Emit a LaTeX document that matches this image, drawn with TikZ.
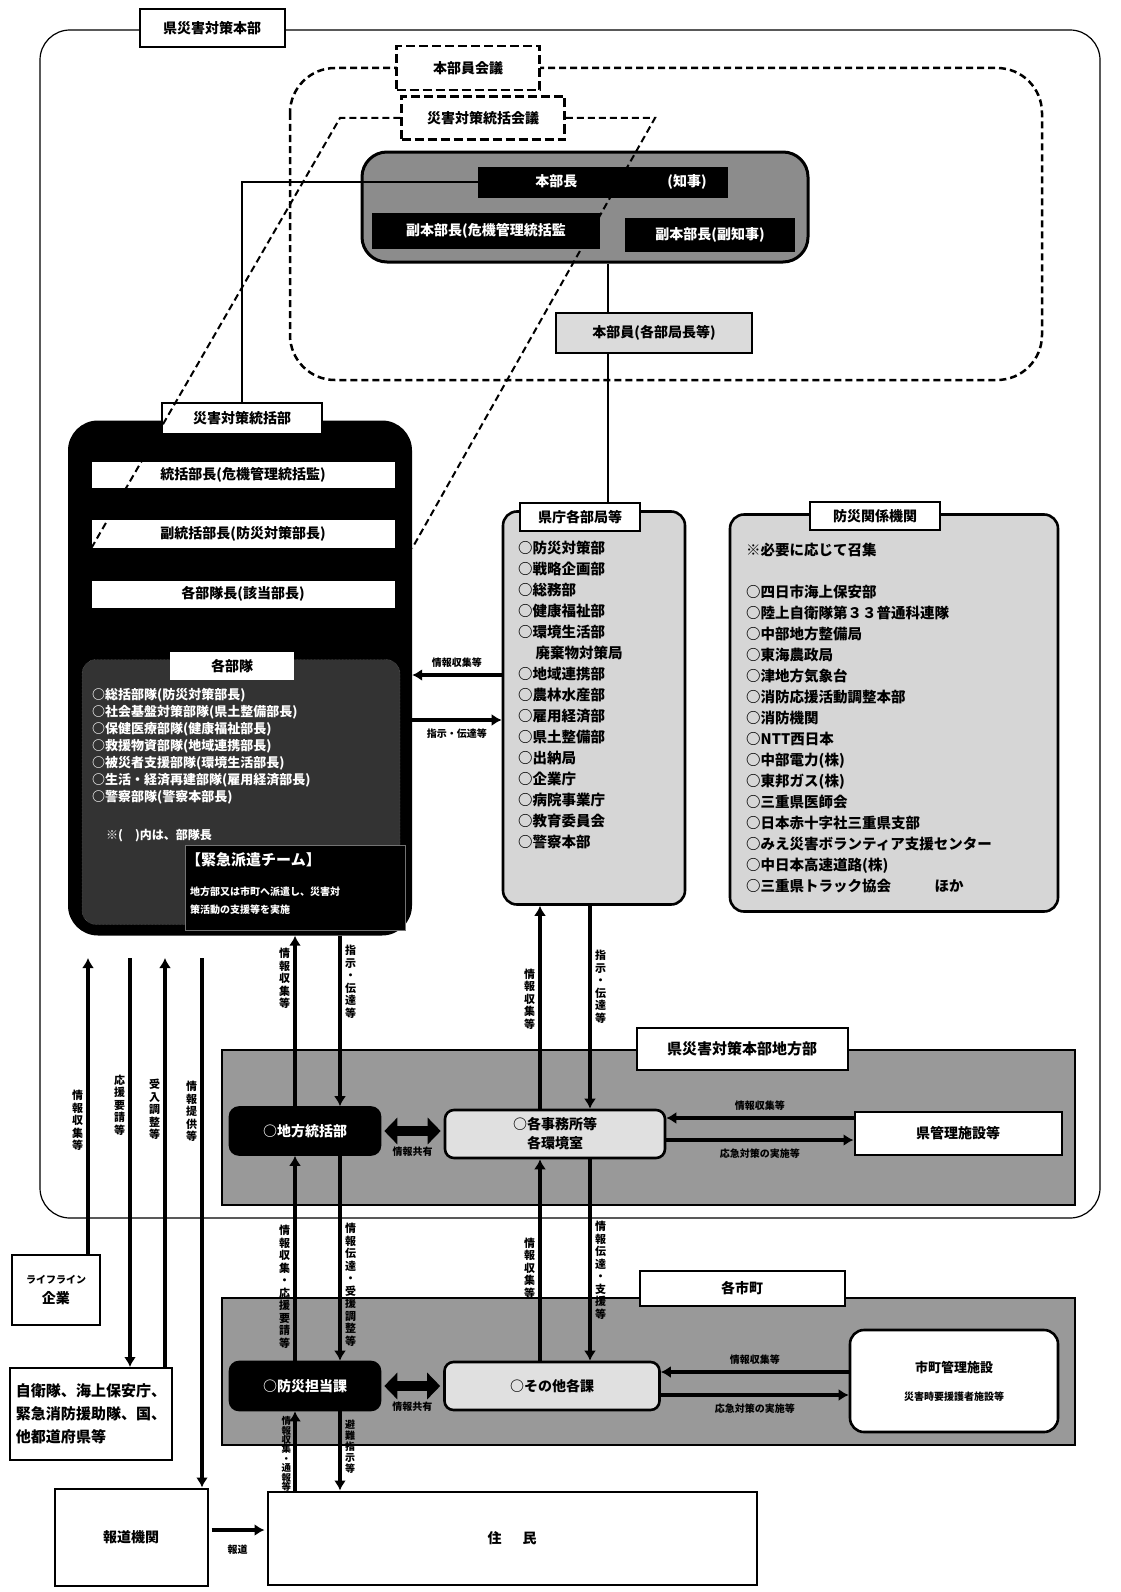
\documentclass[tikz,border=0pt]{standalone}
\usepackage{fontspec}
\setmainfont{Noto Sans CJK JP}
\usepackage{tikz}
\usetikzlibrary{arrows,arrows.meta,positioning}

\newcommand{\fsz}[2]{\fontsize{#1}{#2}\selectfont}

\tikzset{
  tbox/.style={draw, line width=2pt, fill=white, inner sep=0pt, font=\bfseries\fsz{14}{16}},
  dbox/.style={draw, line width=2.5pt, dash pattern=on 9pt off 4pt, fill=white, inner sep=0pt, font=\bfseries\fsz{14}{16}},
  bbar/.style={fill=black, text=white, inner sep=0pt, font=\bfseries\fsz{14}{16}},
  wbar/.style={fill=white, inner sep=0pt, font=\bfseries\fsz{14}{16}},
  zone/.style={draw, line width=1.6pt, fill=black!40, inner sep=0pt},
  rbox/.style={draw, line width=2.6pt, rounded corners=9pt, inner sep=0pt, font=\bfseries\fsz{14}{16}},
  itemlist/.style={align=left, anchor=north west, inner sep=0pt, font=\bfseries\fsz{14.5}{21}},
  hair/.style={line width=1.2pt},
  dline/.style={line width=2pt, dash pattern=on 7pt off 4pt},
  fat/.style={line width=4pt, ->, >={Latex[length=10pt,width=12pt]}},
  dbl/.style={line width=10pt, <->, >={Triangle[length=13pt,width=26pt]}, shorten >=3pt, shorten <=3pt},
  tate/.style={align=center, inner sep=3pt, font=\bfseries\fsz{11}{12.5}},
  lab/.style={inner sep=1pt, font=\bfseries\fsz{10}{12}},
}

\begin{document}
\begin{tikzpicture}[x=1pt, y=-1pt]
\useasboundingbox (0,0) rectangle (1120,1592);

% columns of the long arrows
\coordinate (spine) at (608,0);
\coordinate (cA) at (295,0);
\coordinate (cB) at (340,0);
\coordinate (cC) at (540,0);
\coordinate (cD) at (590,0);
\coordinate (cE) at (88,0);
\coordinate (cF) at (130,0);
\coordinate (cG) at (165,0);
\coordinate (cH) at (202,0);
\coordinate (lo) at (0,958);
\coordinate (tieL) at (340,118);
\coordinate (tieR) at (655,118);

% headquarters frame
\draw[hair, rounded corners=30pt] (40,30) rectangle (1100,1218);
\node[tbox, minimum width=145pt, minimum height=38pt] (hq) at (212,28) {県災害対策本部};

% meetings
\draw[dline, line width=2.5pt, rounded corners=45pt] (290,68) rectangle (1042,380);
\node[dbox, minimum width=143pt, minimum height=44pt] (kaigi) at (468,68) {本部員会議};
\node[dbox, minimum width=163pt, minimum height=43pt] (tkaigi) at (483,118) {災害対策統括会議};

\node[rbox, line width=3pt, rounded corners=25pt, fill=black!45, minimum width=446pt, minimum height=110pt] (honbu) at (585,207) {};
\node[bbar, minimum width=250pt, minimum height=31pt] (chief) at (603,182) {\hspace*{36pt}本部長\hspace{90pt}(知事)};
\node[bbar, minimum width=228pt, minimum height=36pt] (vice1) at (486,231) {副本部長(危機管理統括監};
\node[bbar, minimum width=170pt, minimum height=34pt] (vice2) at (710,235) {副本部長(副知事)};
\node[rbox, rounded corners=0pt, fill=black!14, minimum width=196pt, minimum height=40pt] (member) at (654,333) {本部員(各部局長等)};

% coordination division
\node[fill=black, rounded corners=30pt, minimum width=344pt, minimum height=515pt, inner sep=0pt] (tk) at (240,678) {};
\node[tbox, minimum width=160pt, minimum height=31pt] (tkttl) at (242,418) {災害対策統括部};
\node[wbar, minimum width=303pt, minimum height=26pt] (boss) at (243,475) {統括部長(危機管理統括監)};
\node[wbar, minimum width=303pt, minimum height=28pt] (fuku) at (243,534) {副統括部長(防災対策部長)};
\node[wbar, minimum width=303pt, minimum height=27pt] (leaders) at (243,594) {各部隊長(該当部長)};
\node[draw=black!55, densely dotted, fill=black!80, rounded corners=14pt, minimum width=318pt, minimum height=265pt, inner sep=0pt] (units) at (241,792) {};
\node[wbar, minimum width=124pt, minimum height=28pt] (unitsttl) at (232,666) {各部隊};
\node[itemlist, text=white, font=\bfseries\fsz{13}{17}] (unitlist) at (92,688) {○総括部隊(防災対策部長)\\○社会基盤対策部隊(県土整備部長)\\○保健医療部隊(健康福祉部長)\\○救援物資部隊(地域連携部長)\\○被災者支援部隊(環境生活部長)\\○生活・経済再建部隊(雇用経済部長)\\○警察部隊(警察本部長)};
\node[anchor=west, text=white, inner sep=0pt, font=\bfseries\fsz{12}{14}] (note) at (106,836) {※(\hspace{1em})内は、部隊長};
\node[fill=black, draw=black!55, minimum width=220pt, minimum height=85pt, inner sep=0pt] (team) at (295,888) {};
\node[anchor=west, text=white, inner sep=0pt, font=\bfseries\fsz{15}{18}] (teamttl) at (186,860) {【緊急派遣チーム】};
\node[anchor=west, align=left, text=white, inner sep=0pt, font=\bfseries\fsz{10}{18}] (teamtxt) at (190,901) {地方部又は市町へ派遣し、災害対\\策活動の支援等を実施};

% prefectural departments
\node[rbox, rounded corners=14pt, fill=black!16, minimum width=182pt, minimum height=393pt] (kencho) at (594,708) {};
\node[tbox, minimum width=120pt, minimum height=28pt] (kcttl) at (580,517) {県庁各部局等};
\node[itemlist] (kclist) at (518,541) {○防災対策部\\○戦略企画部\\○総務部\\○健康福祉部\\○環境生活部\\\hspace*{1.2em}廃棄物対策局\\○地域連携部\\○農林水産部\\○雇用経済部\\○県土整備部\\○出納局\\○企業庁\\○病院事業庁\\○教育委員会\\○警察本部};

% related organisations
\node[rbox, rounded corners=14pt, fill=black!16, minimum width=328pt, minimum height=397pt] (kikan) at (894,713) {};
\node[tbox, minimum width=130pt, minimum height=28pt] (kkttl) at (875,516) {防災関係機関};
\node[itemlist] (kkhead) at (746,543) {※必要に応じて召集};
\node[itemlist] (kklist) at (746,585) {○四日市海上保安部\\○陸上自衛隊第３３普通科連隊\\○中部地方整備局\\○東海農政局\\○津地方気象台\\○消防応援活動調整本部\\○消防機関\\○NTT西日本\\○中部電力(株)\\○東邦ガス(株)\\○三重県医師会\\○日本赤十字社三重県支部\\○みえ災害ボランティア支援センター\\○中日本高速道路(株)\\○三重県トラック協会\hspace*{3em}ほか};

% regional division
\node[zone, minimum width=853pt, minimum height=155pt] (chihozone) at (648.5,1127.5) {};
\node[tbox, minimum width=211pt, minimum height=42pt, font=\bfseries\fsz{15}{16}] (chihottl) at (742,1049) {県災害対策本部地方部};
\node[rbox, fill=black, text=white, minimum width=150pt, minimum height=47pt] (chiho) at (305,1131) {○地方統括部};
\node[rbox, fill=black!12, minimum width=220pt, minimum height=48pt, align=center, font=\bfseries\fsz{14}{19}] (jimusho) at (555,1134) {○各事務所等\\各環境室};
\node[tbox, minimum width=207pt, minimum height=43pt] (kenkanri) at (958,1133) {県管理施設等};

% municipalities
\node[zone, minimum width=853pt, minimum height=147pt] (shichozone) at (648.5,1371.5) {};
\node[tbox, minimum width=205pt, minimum height=35pt] (shichottl) at (742,1288) {各市町};
\node[rbox, fill=black, text=white, minimum width=150pt, minimum height=48pt] (bosai) at (305,1386) {○防災担当課};
\node[rbox, fill=black!12, minimum width=215pt, minimum height=48pt] (sonota) at (552,1386) {○その他各課};
\node[rbox, rounded corners=14pt, fill=white, minimum width=208pt, minimum height=102pt, align=center, font=\bfseries\fsz{13}{28}] (shichokanri) at (954,1381) {市町管理施設\\{\fsz{10}{12}災害時要援護者施設等}};

% outside bodies
\node[tbox, minimum width=88pt, minimum height=70pt, align=center, font=\bfseries\fsz{14}{20}] (raifu) at (56,1290) {{\fsz{10}{20}ライフライン}\\企業};
\node[tbox, minimum width=162pt, minimum height=92pt, align=left, font=\bfseries\fsz{15}{23}] (jieitai) at (91,1414) {自衛隊、海上保安庁、\\緊急消防援助隊、国、\\他都道府県等};
\node[tbox, minimum width=153pt, minimum height=97pt] (houdou) at (131,1537) {報道機関};
\node[tbox, minimum width=489pt, minimum height=93pt] (jumin) at (512,1538) {住\hspace{1.5em}民};

% thin links
\draw[hair] (chief.west) -| (tkttl.north);
\draw[hair] (honbu.south -| spine) -- (member.north -| spine);
\draw[hair] (member.south -| spine) -- (kcttl.north -| spine);

% division <-> departments
\draw[fat] ([yshift=33pt]kencho.west) -- ([yshift=33pt]kencho.west -| tk.east) node[lab, midway, above=5pt] {情報収集等};
\draw[fat] ([yshift=-12pt]kencho.west -| tk.east) -- ([yshift=-12pt]kencho.west) node[lab, midway, below=6pt] {指示・伝達等};

% vertical flows
\draw[fat] (chiho.north -| cA) -- (tk.south -| cA) node[tate, left, pos=.75] {情\\報\\収\\集\\等};
\draw[fat] (tk.south -| cB) -- (chiho.north -| cB) node[tate, right, pos=.27] {指\\示\\・\\伝\\達\\等};
\draw[fat] (jimusho.north -| cC) -- (kencho.south -| cC) node[tate, left, pos=.54] {情\\報\\収\\集\\等};
\draw[fat] (kencho.south -| cD) -- (jimusho.north -| cD) node[tate, right, pos=.4] {指\\示\\・\\伝\\達\\等};
\draw[fat] (bosai.north -| cA) -- (chiho.south -| cA) node[tate, left, pos=.36] {情\\報\\収\\集\\・\\応\\援\\要\\請\\等};
\draw[fat] (chiho.south -| cB) -- (bosai.north -| cB) node[tate, right, pos=.63] {情\\報\\伝\\達\\・\\受\\援\\調\\整\\等};
\draw[fat] (sonota.north -| cC) -- (jimusho.south -| cC) node[tate, left, pos=.46] {情\\報\\収\\集\\等};
\draw[fat] (jimusho.south -| cD) -- (sonota.north -| cD) node[tate, right, pos=.55] {情\\報\\伝\\達\\・\\支\\援\\等};
\draw[fat] (jumin.north -| cA) -- (bosai.south -| cA) node[tate, left, pos=.46, inner sep=2pt, font=\bfseries\fsz{9.5}{9.4}] {情\\報\\収\\集\\・\\通\\報\\等};
\draw[fat] (bosai.south -| cB) -- (jumin.north -| cB) node[tate, right, pos=.45, font=\bfseries\fsz{10}{11}] {避\\難\\指\\示\\等};

% outside flows
\draw[fat] (raifu.north -| cE) -- (lo -| cE) node[tate, left, pos=.45] {情\\報\\収\\集\\等};
\draw[fat] (lo -| cF) -- (jieitai.north -| cF) node[tate, left, pos=.36] {応\\援\\要\\請\\等};
\draw[fat] (jieitai.north -| cG) -- (lo -| cG) node[tate, left, pos=.63] {受\\入\\調\\整\\等};
\draw[fat] (lo -| cH) -- (houdou.north -| cH) node[tate, left, pos=.29] {情\\報\\提\\供\\等};
\draw[fat, shorten <=3pt, shorten >=2pt] ([yshift=7pt]houdou.east) -- ([yshift=7pt]houdou.east -| jumin.west) node[lab, midway, below=12pt] {報道};

% sharing and facilities
\draw[dbl] (chiho.east) -- (chiho.east -| jimusho.west) node[lab, midway, below=10pt] {情報共有};
\draw[dbl] (bosai.east) -- (sonota.west) node[lab, midway, below=10pt] {情報共有};
\draw[fat] ([yshift=15pt]kenkanri.west) -- ([yshift=15pt]kenkanri.west -| jimusho.east) node[lab, midway, above=5pt] {情報収集等};
\draw[fat] ([yshift=-7pt]kenkanri.west -| jimusho.east) -- ([yshift=-7pt]kenkanri.west) node[lab, midway, below=6pt] {応急対策の実施等};
\draw[fat] ([yshift=9pt]shichokanri.west) -- ([yshift=9pt]shichokanri.west -| sonota.east) node[lab, midway, above=5pt] {情報収集等};
\draw[fat] ([yshift=-14pt]shichokanri.west -| sonota.east) -- ([yshift=-14pt]shichokanri.west) node[lab, midway, below=6pt] {応急対策の実施等};

% meeting ties
\draw[dline] (tkaigi.west) -- (tieL) -- (fuku.south west);
\draw[dline] (tkaigi.east) -- (tieR) -- (tk.east |- fuku.south);
\end{tikzpicture}
\end{document}
